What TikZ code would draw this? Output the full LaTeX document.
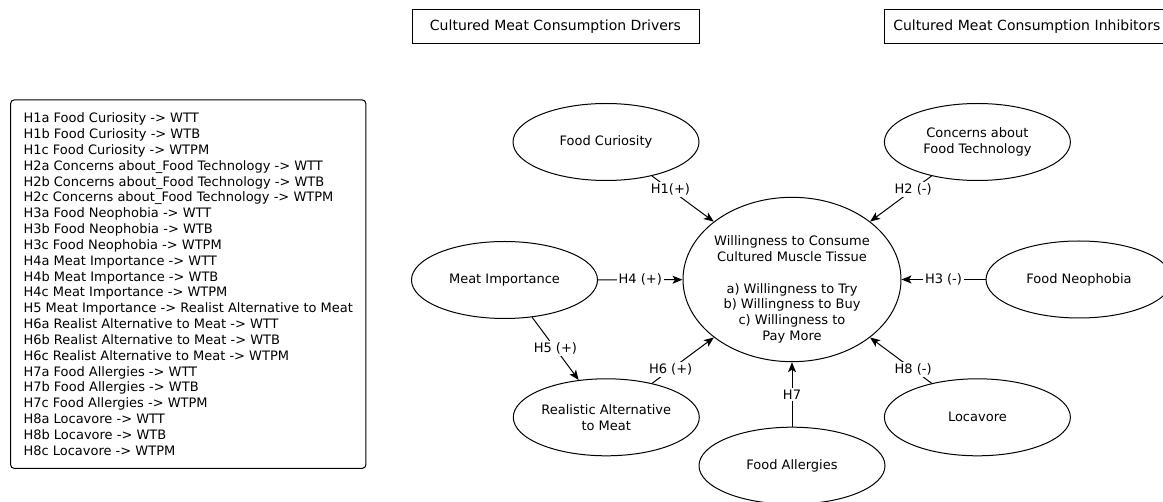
\documentclass[tikz,border=0pt]{standalone}
\usepackage{fontspec}
\setmainfont{DejaVu Sans}
\usetikzlibrary{shapes.geometric,arrows.meta,backgrounds}
\begin{document}
\begin{tikzpicture}[x=1pt,y=-1pt,
  every node/.style={font=\fontsize{13}{15.84}\selectfont},
  construct/.style={draw, ellipse, line width=1pt, minimum width=186pt, minimum height=77pt, inner sep=0pt, align=center},
  header/.style={draw, line width=1pt, minimum height=34pt, inner sep=0pt, font=\fontsize{14}{16}\selectfont},
  hyp/.style={line width=1pt, -{Stealth[length=10pt,width=8pt,inset=2.5pt]}},
  hlabel/.style={fill=white, inner sep=2pt}]
\useasboundingbox (0,0) rectangle (1163,502);

% headers
\node[header, minimum width=287pt] (drivers) at (555.5,26.3) {Cultured Meat Consumption Drivers};
\node[header, anchor=north west, text width=274pt, inner xsep=8.5pt, align=left] (inhib) at (884.3,9.3) {Cultured Meat Consumption Inhibitors};

% hypotheses list
\node[draw, rounded corners=4pt, line width=1pt, anchor=north west, inner sep=13pt, align=left] (hyps) at (10,99.3) {%
H1a Food Curiosity -> WTT\\
H1b Food Curiosity -> WTB\\
H1c Food Curiosity -> WTPM\\
H2a Concerns about\_Food Technology -> WTT\\
H2b Concerns about\_Food Technology -> WTB\\
H2c Concerns about\_Food Technology -> WTPM\\
H3a Food Neophobia -> WTT\\
H3b Food Neophobia -> WTB\\
H3c Food Neophobia -> WTPM\\
H4a Meat Importance -> WTT\\
H4b Meat Importance -> WTB\\
H4c Meat Importance -> WTPM\\
H5 Meat Importance -> Realist Alternative to Meat\\
H6a Realist Alternative to Meat -> WTT\\
H6b Realist Alternative to Meat -> WTB\\
H6c Realist Alternative to Meat -> WTPM\\
H7a Food Allergies -> WTT\\
H7b Food Allergies -> WTB\\
H7c Food Allergies -> WTPM\\
H8a Locavore -> WTT\\
H8b Locavore -> WTB\\
H8c Locavore -> WTPM};

% constructs
\node[construct] (fc) at (606,142) {Food Curiosity};
\node[construct] (cft) at (977.4,142) {Concerns about\\Food Technology};
\node[construct] (mi) at (504.5,280) {Meat Importance};
\node[construct] (fn) at (1079,279.5) {Food Neophobia};
\node[construct] (ram) at (606.3,417.3) {Realistic Alternative\\to Meat};
\node[construct] (fa) at (792,465.7) {Food Allergies};
\node[construct] (loc) at (977.4,417.3) {Locavore};
\node[draw, ellipse, line width=1pt, minimum width=218pt, minimum height=164.4pt, inner sep=0pt] (wc) at (792,279.5) {};
\node[align=center, inner sep=0pt] (wctext) at (792,289.5) {Willingness to Consume\\Cultured Muscle Tissue\\[15.84pt]a) Willingness to Try\\b) Willingness to Buy\\c) Willingness to\\Pay More};

% connectors
\begin{scope}[on background layer]
\fill[white] (0,0) rectangle (1163,502);
\draw[hyp] (fc) -- node[hlabel, pos=0.3] {H1(+)} (wc);
\draw[hyp] (cft) -- node[hlabel, pos=0.3] {H2 (-)} (wc);
\draw[hyp] (fn) -- node[hlabel, pos=0.5] {H3 (-)} (wc);
\draw[hyp] (mi) -- node[hlabel, pos=0.5] {H4 (+)} (wc);
\draw[hyp] (mi) -- node[hlabel, pos=0.5] {H5 (+)} (ram);
\draw[hyp] (ram) -- node[hlabel, pos=0.3] {H6 (+)} (wc);
\draw[hyp] (fa) -- node[hlabel, pos=0.5] {H7} (wc);
\draw[hyp] (loc) -- node[hlabel, pos=0.3] {H8 (-)} (wc);
\end{scope}
\end{tikzpicture}
\end{document}
